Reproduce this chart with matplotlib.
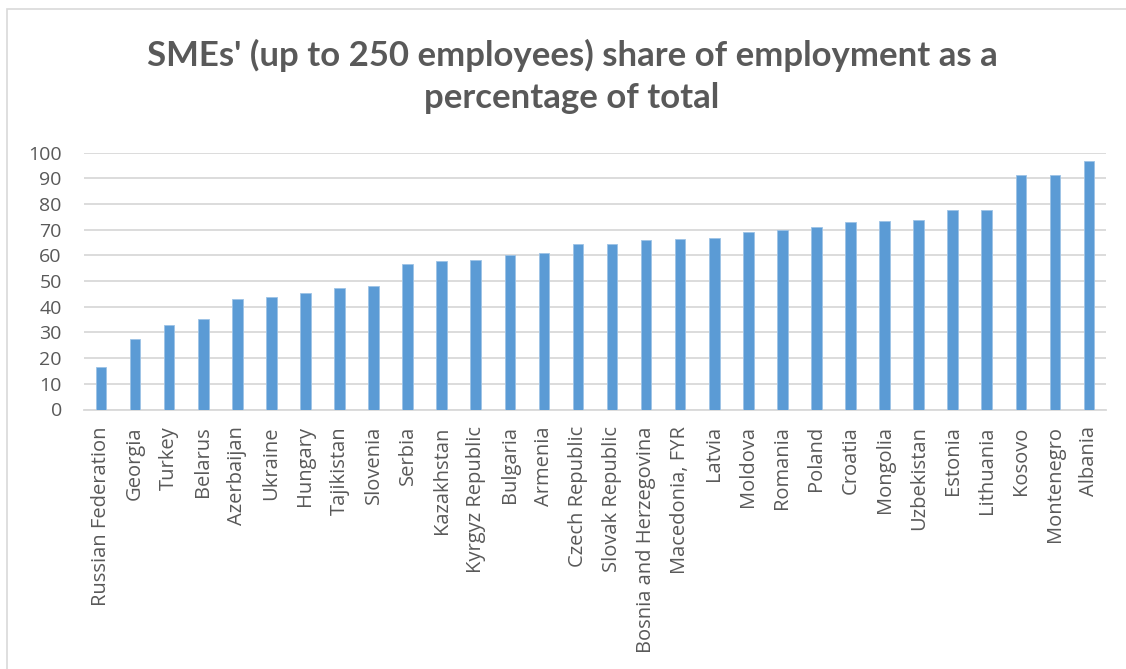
import matplotlib
matplotlib.use("Agg")
import matplotlib.pyplot as plt
from matplotlib.patches import Rectangle

countries = [
    "Russian Federation", "Georgia", "Turkey", "Belarus", "Azerbaijan",
    "Ukraine", "Hungary", "Tajikistan", "Slovenia", "Serbia", "Kazakhstan",
    "Kyrgyz Republic", "Bulgaria", "Armenia", "Czech Republic",
    "Slovak Republic", "Bosnia and Herzegovina", "Macedonia, FYR", "Latvia",
    "Moldova", "Romania", "Poland", "Croatia", "Mongolia", "Uzbekistan",
    "Estonia", "Lithuania", "Kosovo", "Montenegro", "Albania",
]
sme_share = [
    16.4, 27.4, 33.0, 35.3, 42.9, 43.9, 45.5, 47.4, 48.2, 56.5, 57.9,
    58.4, 60.0, 60.9, 64.3, 64.4, 66.1, 66.4, 66.8, 69.2, 70.0, 71.0,
    73.0, 73.5, 73.8, 77.8, 77.8, 91.2, 91.4, 96.9,
]
y_ticks = list(range(0, 101, 10))

title_lines = ["SMEs' (up to 250 employees) share of employment as a",
               "percentage of total"]

title_font = ["Lato", "DejaVu Sans"]
tick_font = ["Open Sans", "DejaVu Sans"]

W, H = 1126, 669
fig = plt.figure(figsize=(W / 100, H / 100), dpi=100)
fig.patch.set_facecolor("white")

# outer chart frame
fig.patches.append(Rectangle((7.5 / W, -0.05), 1.2, 1.05 - 8.5 / H,
                             transform=fig.transFigure, fill=False,
                             edgecolor="#d9d9d9", linewidth=1.2, zorder=0))

ax = fig.add_axes([84 / W, 1 - 409.5 / H, (1106 - 84) / W, (409.5 - 152.7) / H])
x = range(len(countries))
ax.bar(x, sme_share, width=0.31, color="#5b9bd5", edgecolor="#9dc3e6",
       linewidth=0.6, zorder=3)

ax.set_xlim(-0.5, len(countries) - 0.5)
ax.set_ylim(0, 100)
ax.set_yticks(y_ticks)
ax.set_yticklabels([str(v) for v in y_ticks], family=tick_font,
                   fontsize=14, color="#595959")
ax.set_xticks(list(x))
ax.set_xticklabels(countries, rotation=90, family=tick_font,
                   fontsize=14.5, color="#595959")
ax.tick_params(axis="both", length=0)
ax.tick_params(axis="x", pad=12)
ax.tick_params(axis="y", pad=16)

ax.grid(axis="y", color="#d9d9d9", linewidth=1.3, zorder=0)
ax.set_axisbelow(True)
for side in ("top", "right", "left"):
    ax.spines[side].set_visible(False)
ax.spines["bottom"].set_color("#d9d9d9")
ax.spines["bottom"].set_linewidth(1.3)

fig.text(572 / W, 1 - 66 / H, title_lines[0], ha="center", va="baseline",
         family=title_font, fontweight="bold", fontsize=25,
         color="#595959")
fig.text(572 / W, 1 - 108 / H, title_lines[1], ha="center", va="baseline",
         family=title_font, fontweight="bold", fontsize=25,
         color="#595959")

fig.savefig("out.png", dpi=100, facecolor="white")
